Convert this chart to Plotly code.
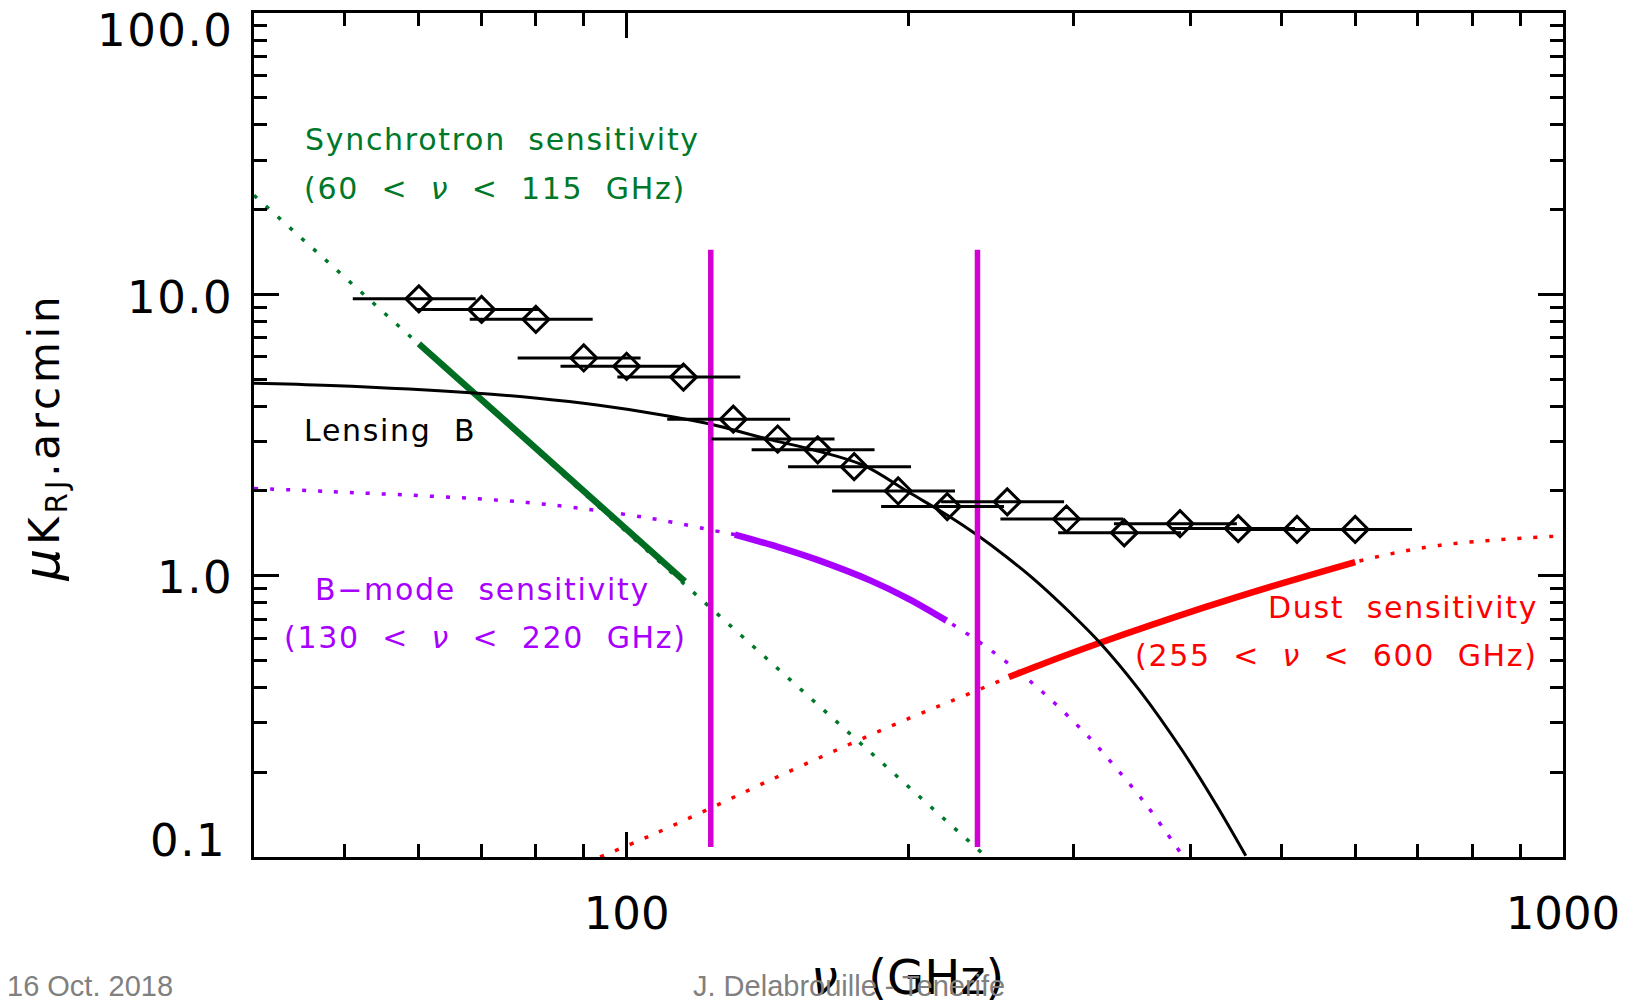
import plotly.graph_objects as go
import math

# ---------------- data ----------------
channel_freq = [60, 70, 80, 90, 100, 115, 130, 145, 160, 175, 195, 220,
                255, 295, 340, 390, 450, 520, 600]
channel_sens = [9.64, 8.84, 8.15, 5.94, 5.55, 5.08, 3.60, 3.06, 2.80, 2.44,
                2.00, 1.76, 1.83, 1.59, 1.42, 1.53, 1.47, 1.46, 1.46]
band_half_fraction = 0.15   # horizontal bars: +/-15 % of the channel frequency

lens_nu = [40, 48.3, 68.7, 80.3, 93.0, 109.5, 122.8, 140.9, 159.6, 178.9,
           200.6, 221.4, 236.4, 255, 274.9, 297, 319.9, 352.9, 392.5, 426, 458.5]
lens_val = [4.83, 4.74, 4.46, 4.27, 4.04, 3.72, 3.46, 3.07, 2.78, 2.47,
            1.97, 1.62, 1.40, 1.16, 0.945, 0.744, 0.58, 0.392, 0.238, 0.154, 0.101]

bmode_nu = [40, 48.3, 78.3, 105.9, 124.8, 130.5, 145, 159.6, 182, 200, 219.6, 244.2,
            275.9, 308.3, 325.2, 358.7, 392.5]
bmode_val = [2.04, 1.99, 1.82, 1.60, 1.44, 1.40, 1.266, 1.14, 0.962, 0.827, 0.692, 0.547,
             0.395, 0.277, 0.228, 0.1537, 0.101]
bmode_band_nu = [130.5, 145, 159.6, 182, 200, 219.6]
bmode_band_val = [1.40, 1.266, 1.14, 0.962, 0.827, 0.692]

sync_nu = [40, 242.2]
sync_val = [22.5, 0.1]
sync_band_nu = [60, 115.4]
sync_band_val = [6.67, 0.954]

dust_nu = [93.7, 106, 121.8, 140.6, 167.6, 200.7, 231.5, 256, 276, 319.9,
           415.6, 489.6, 600, 737, 1000]
dust_val = [0.1, 0.119, 0.147, 0.184, 0.240, 0.312, 0.379, 0.436, 0.4806, 0.576,
            0.774, 0.918, 1.118, 1.281, 1.385]
dust_band_nu = [256, 276, 319.9, 415.6, 489.6, 600]
dust_band_val = [0.436, 0.4806, 0.576, 0.774, 0.918, 1.118]

limit_nu = [123, 237]          # vertical magenta lines
limit_span = [0.1084, 14.4]

x_tickvals = [100, 1000]
x_ticktext = ["100", "1000"]
x_minor = [50, 60, 70, 80, 90, 200, 300, 400, 500, 600, 700, 800, 900]
y_tickvals = [0.1, 1, 10, 100]
y_ticktext = ["0.1", "1.0", "10.0", "100.0"]
y_minor = [0.2, 0.3, 0.4, 0.5, 0.6, 0.7, 0.8, 0.9, 2, 3, 4, 5, 6, 7, 8, 9,
           20, 30, 40, 50, 60, 70, 80, 90]
# where the (IDL-placed) y tick labels sit, in pixels: right edge, vertical centre
y_label_pos = [(228, 840), (235, 577), (235, 295.5), (235, 28)]

# ---------------- styles ----------------
GREEN = "#00782a"
PURPLE = "#a800ff"
RED = "#ff0000"
MAGENTA = "#d200d2"
DOT = "4px,12px"

W, H = 1639, 1003
L, R, T, B = 254, 76, 10, 146

fig = go.Figure()

# dotted full curves
fig.add_trace(go.Scatter(x=sync_nu, y=sync_val, mode="lines",
                         line=dict(color=GREEN, width=3.5, dash=DOT)))
fig.add_trace(go.Scatter(x=bmode_nu, y=bmode_val, mode="lines", line_shape="spline",
                         line=dict(color=PURPLE, width=3.5, dash=DOT)))
fig.add_trace(go.Scatter(x=dust_nu, y=dust_val, mode="lines", line_shape="spline",
                         line=dict(color=RED, width=3.5, dash=DOT)))
# thick band segments
fig.add_trace(go.Scatter(x=sync_band_nu, y=sync_band_val, mode="lines",
                         line=dict(color="#006e22", width=6.5)))
fig.add_trace(go.Scatter(x=bmode_band_nu, y=bmode_band_val, mode="lines", line_shape="spline",
                         line=dict(color=PURPLE, width=6.5)))
fig.add_trace(go.Scatter(x=dust_band_nu, y=dust_band_val, mode="lines", line_shape="spline",
                         line=dict(color=RED, width=6.5)))
# lensing B
fig.add_trace(go.Scatter(x=lens_nu, y=lens_val, mode="lines", line_shape="spline",
                         line=dict(color="black", width=3)))
# vertical limits
for nu in limit_nu:
    fig.add_trace(go.Scatter(x=[nu, nu], y=limit_span, mode="lines",
                             line=dict(color=MAGENTA, width=5.5)))
# channels
plus = [f * band_half_fraction for f in channel_freq]
fig.add_trace(go.Scatter(
    x=channel_freq, y=channel_sens, mode="markers",
    marker=dict(symbol="diamond-open", size=20, color="black", line=dict(width=3)),
    error_x=dict(type="data", symmetric=False, array=plus, arrayminus=plus,
                 thickness=3, width=0, color="black")))


def px2paper(px, py):
    return (px - L) / (W - L - R), 1 - (py - T) / (H - T - B)


ann = []


def add_text(text, px, py, color, size=30, anchor="left", family="DejaVu Sans",
             spacing=1.7, angle=0):
    xp, yp = px2paper(px, py)
    ann.append(dict(text=f"<span style='letter-spacing:{spacing}px'>{text}</span>",
                    x=xp, y=yp, xref="paper", yref="paper", showarrow=False,
                    xanchor=anchor, yanchor="middle", textangle=angle,
                    font=dict(family=family, size=size, color=color)))


S2 = "\u00a0\u00a0"
add_text("Synchrotron" + S2 + "sensitivity", 303, 137, GREEN)
add_text("(60" + S2 + "<" + S2 + "<i>ν</i>" + S2 + "<" + S2 + "115" + S2 + "GHz)", 302, 186, GREEN)
add_text("Lensing" + S2 + "B", 302, 428.5, "black")
add_text("B−mode" + S2 + "sensitivity", 313, 589, PURPLE)
add_text("(130" + S2 + "<" + S2 + "<i>ν</i>" + S2 + "<" + S2 + "220" + S2 + "GHz)", 282, 636.5, PURPLE)
add_text("Dust" + S2 + "sensitivity", 1540, 606.3, RED, anchor="right")
add_text("(255" + S2 + "<" + S2 + "<i>ν</i>" + S2 + "<" + S2 + "600" + S2 + "GHz)", 1540, 655, RED,
         anchor="right")

# y tick labels (placed as IDL did, the end labels pulled inside)
for txt, (px, py) in zip(y_ticktext, y_label_pos):
    add_text(txt, px, py, "black", size=45, anchor="right", spacing=1.5)

# axis titles
add_text("<span style='font-size:50px'><i>μ</i></span>K<sub>RJ</sub>.arcmin", 44, 436,
         "black", size=42, anchor="center", spacing=3.8, angle=-90)
add_text("<i>ν</i>" + S2 + "(GHz)", 907, 977, "black", size=48, anchor="center", spacing=0)

# slide footer
add_text("16 Oct. 2018", 5, 986, "#808080", size=29, family="Liberation Sans", spacing=0)
add_text("J. Delabrouille - Tenerife", 691, 986, "#808080", size=29,
         family="Liberation Sans", spacing=0)

axis_common = dict(type="log", showgrid=False, zeroline=False, showline=True,
                   linecolor="black", linewidth=2.6, mirror="ticks",
                   ticks="inside", ticklen=25, tickwidth=2.6, tickcolor="black",
                   tickfont=dict(family="DejaVu Sans", size=45, color="black"))

fig.update_layout(
    width=W, height=H, margin=dict(l=L, r=R, t=T, b=B),
    paper_bgcolor="white", plot_bgcolor="white", showlegend=False,
    annotations=ann,
    xaxis=dict(range=[math.log10(40), 3.0001], tickmode="array", tickvals=x_tickvals,
               ticktext=x_ticktext, ticklabelstandoff=15,
               minor=dict(tickmode="array", tickvals=x_minor, ticks="inside", ticklen=13,
                          tickwidth=2.6, tickcolor="black", showgrid=False),
               **axis_common),
    yaxis=dict(range=[-1.0001, 2.0001], tickmode="array", tickvals=y_tickvals,
               showticklabels=False,
               minor=dict(tickmode="array", tickvals=y_minor, ticks="inside", ticklen=13,
                          tickwidth=2.6, tickcolor="black", showgrid=False),
               **axis_common),
)

fig.write_html("out.html", config={"displayModeBar": False},
               post_script="document.body.style.margin='0';document.body.style.overflow='hidden';")
